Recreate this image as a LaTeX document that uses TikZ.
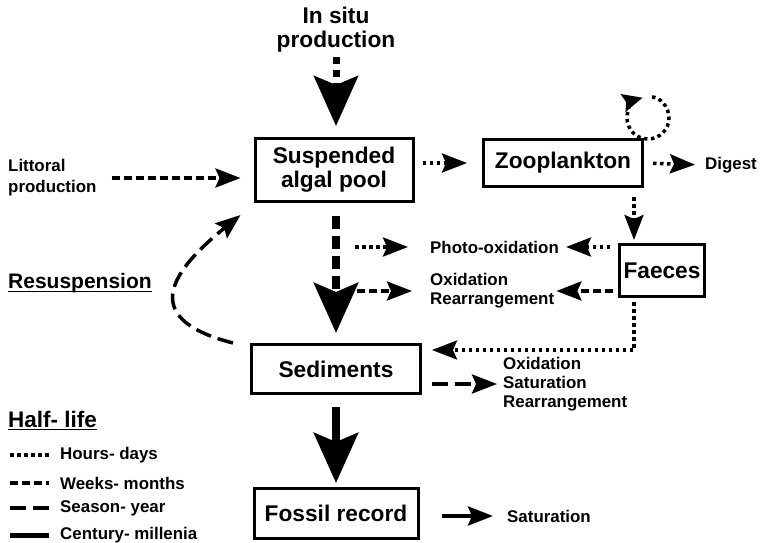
\documentclass[tikz,border=0pt]{standalone}
\usepackage{fontspec}
\setmainfont{Liberation Sans}
\usetikzlibrary{arrows.meta}
\begin{document}
\begin{tikzpicture}[x=1pt,y=-1pt,
  box/.style={draw, line width=3pt, inner sep=0pt, align=center, font=\bfseries\fontsize{22.7}{24}\selectfont},
  lbl/.style={inner sep=0pt, anchor=west, align=left, font=\bfseries\fontsize{16.9}{19}\selectfont},
  hours/.style={line width=3.5pt, dash pattern=on 3.5pt off 3.5pt},
  weeks/.style={line width=3.5pt, dash pattern=on 8pt off 4pt},
  season/.style={line width=3.5pt, dash pattern=on 16pt off 7pt},
  century/.style={line width=5pt},
  tip/.style={-{Stealth[length=25pt,width=19pt,inset=4pt]}},
  looptip/.style={-{Stealth[length=20pt,width=18pt,inset=3pt]}},
  bigtip/.style={-{Stealth[length=50pt,width=44pt,inset=9pt]}},
  uline/.style={line width=1.8pt}
]
\useasboundingbox (0,0) rectangle (760,543);

% boxes
\node[box, minimum width=158pt, minimum height=63pt] (sap) at (334,170) {Suspended\\algal pool};
\node[box, minimum width=159pt, minimum height=47pt] (zoo) at (563,163) {Zooplankton};
\node[box, minimum width=85pt, minimum height=52pt] (faeces) at (662,270.5) {Faeces};
\node[box, minimum width=169pt, minimum height=49pt] (sed) at (336,369) {Sediments};
\node[box, minimum width=164pt, minimum height=50pt] (fossil) at (336,513.5) {Fossil record};

% labels
\node[inner sep=0pt, align=center, font=\bfseries\fontsize{22.7}{24}\selectfont] (insitu) at (336,30) {In situ\\production};
\node[lbl, font=\bfseries\fontsize{16.9}{21}\selectfont] (lit) at (8,178) {Littoral\\production};
\node[lbl] (digest) at (705,165) {Digest};
\node[lbl] (photo) at (430,247) {Photo-oxidation};
\node[lbl] (oxr) at (430,291) {Oxidation\\Rearrangement};
\node[lbl] (osr) at (503,384) {Oxidation\\Saturation\\Rearrangement};
\node[lbl] (sat) at (507,516) {Saturation};
\node[inner sep=0pt, anchor=base west, font=\bfseries\fontsize{21}{24}\selectfont] (res) at (8,288) {Resuspension};
\draw[uline] ([yshift=-3.5pt]res.base west) -- ([yshift=-3.5pt]res.base east);
\node[inner sep=0pt, anchor=base west, font=\bfseries\fontsize{22.5}{25}\selectfont] (hl) at (8,427) {Half- life};
\draw[uline] ([yshift=-2.5pt]hl.base west) -- ([yshift=-2.5pt]hl.base east);

% legend
\node[lbl] (l1) at (60,455) {Hours- days};
\node[lbl] (l2) at (60,483) {Weeks- months};
\node[lbl] (l3) at (60,508) {Season- year};
\node[lbl] (l4) at (60,535) {Century- millenia};
\draw[hours] ([xshift=-50pt]l1.west) -- ([xshift=-11pt]l1.west);
\draw[weeks] ([xshift=-50pt]l2.west) -- ([xshift=-11pt]l2.west);
\draw[season] ([xshift=-50pt]l3.west) -- ([xshift=-11pt]l3.west);
\draw[century] ([xshift=-50pt]l4.west) -- ([xshift=-11pt]l4.west);

% connectors
\draw[line width=7pt, dash pattern=on 7pt off 6pt, bigtip, shorten <=4pt, shorten >=11pt]
  (insitu.south) -- (insitu.south |- sap.north);
\draw[weeks, tip, shorten <=15pt, shorten >=13pt] (lit.east) -- (lit.east -| sap.west);
\draw[hours, tip, shorten <=8pt, shorten >=15pt] (sap.east |- zoo.west) -- (zoo.west);
\draw[hours, tip, shorten <=9pt, shorten >=10pt] (zoo.east) -- (digest.west);
\coordinate (loopc) at ([xshift=4pt,yshift=20pt]zoo.north east);
\begin{scope}[shift={(loopc)}]
\draw[hours, looptip, shorten <=4pt] (0,-21) .. controls (11.6,-21) and (21,-11.6) .. (21,0)
  .. controls (21,11.6) and (11.6,21) .. (0,21)
  .. controls (-11.6,21) and (-21,11.6) .. (-21,0)
  .. controls (-21,-9.5) and (-14.6,-17.8) .. (-5.4,-20.3);
\end{scope}
\coordinate (zf) at ([xshift=16pt]faeces.north west);
\draw[hours, tip, shorten <=9pt, shorten >=3pt] (zf |- zoo.south) -- (zf);
\draw[hours, tip, shorten <=8pt, shorten >=7pt] (faeces.west |- photo.east) -- (photo.east);
\draw[weeks, tip, shorten <=5pt, shorten >=2pt] (faeces.west |- oxr.east) -- (oxr.east);
\draw[line width=8pt, dash pattern=on 13pt off 7pt, bigtip, shorten <=13pt, shorten >=10pt]
  (sed.north |- sap.south) -- (sed.north);
\draw[hours, tip, shorten <=19pt, shorten >=22pt] (sed.north |- photo.west) -- (photo.west);
\draw[weeks, tip, shorten <=21pt, shorten >=18pt] (sed.north |- oxr.west) -- (oxr.west);
\coordinate (fs) at ([xshift=16pt]faeces.south west);
\coordinate (fsturn) at ([yshift=-52pt]fs);
\draw[hours, tip, shorten <=4pt, shorten >=10pt] (fs) -- (fsturn) -- (fsturn -| sed.east);
\draw[season, tip, shorten <=10pt, shorten >=6pt] (sed.east |- osr.west) -- (osr.west);
\draw[line width=8pt, bigtip, shorten <=12pt, shorten >=4pt] (sed.south) -- (fossil.north);
\draw[line width=4pt, tip, shorten <=22pt, shorten >=14pt] (fossil.east |- sat.west) -- (sat.west);
\coordinate (rs1) at ([xshift=-17pt]sed.north west);
\coordinate (rs2) at ([xshift=-13pt,yshift=-12pt]sap.south west);
\draw[season, tip] (rs1) .. controls (135,318) and (174,269) .. (rs2);
\end{tikzpicture}
\end{document}
